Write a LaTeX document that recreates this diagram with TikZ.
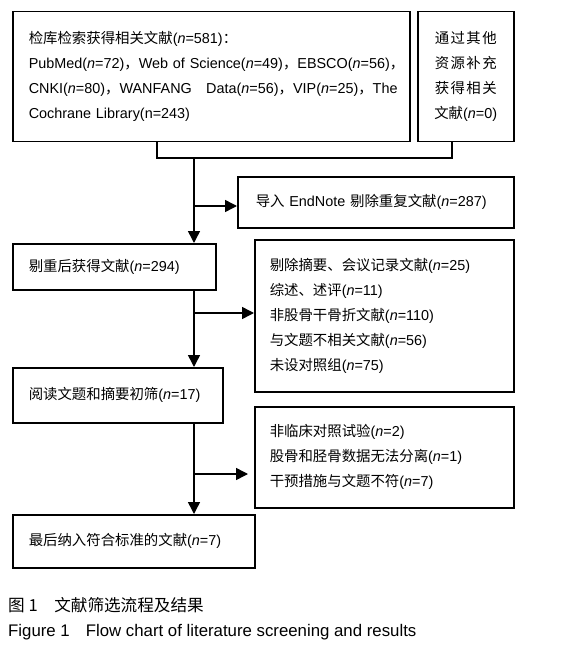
\documentclass[tikz,border=0pt]{standalone}
\usepackage{fontspec}
\setmainfont{Liberation Sans}
\newfontfamily\cjkf{Noto Sans CJK SC}
\newcommand\zh[1]{{\cjkf #1}}
\newcommand\nn{\textit{n}}
\usetikzlibrary{arrows.meta}
\tikzset{
  box/.style={draw, line width=1.5pt, rectangle, anchor=north west, inner xsep=16pt, inner ysep=0pt, align=left, font=\fontsize{14.4}{25}\selectfont},
  arr/.style={line width=1.5pt, -{Triangle[length=12pt,width=12pt]}},
  ln/.style={line width=1.5pt}
}
\begin{document}
\begin{tikzpicture}[x=1pt,y=-1pt]
\useasboundingbox (0,0) rectangle (576,647);
\node[box, text width=365pt, minimum height=130pt] (b1) at (12,11)
 {\mbox{\zh{检库检索获得相关文献}(\nn=581)\zh{：}}\\
  \mbox{PubMed(\nn=72)\zh{，}Web of Science(\nn=49)\zh{，}EBSCO(\nn=56)\zh{，}}\\
  \mbox{CNKI(\nn=80)\zh{，}WANFANG\quad Data(\nn=56)\zh{，}VIP(\nn=25)\zh{，}The}\\
  \mbox{Cochrane Library(n=243)}};
\node[box, inner xsep=0pt, text width=62pt, minimum width=96pt, minimum height=130pt, align=center] (b2) at (417,11)
 {\makebox[62pt]{\zh{通\hfill 过\hfill 其\hfill 他}}\\
  \makebox[62pt]{\zh{资\hfill 源\hfill 补\hfill 充}}\\
  \makebox[62pt]{\zh{获\hfill 得\hfill 相\hfill 关}}\\
  \makebox[62pt]{\zh{文献}(\nn=0)}};
\node[box, inner xsep=18pt, text width=240pt, minimum height=51pt] (e1) at (237,176)
 {\mbox{\zh{导入} EndNote \zh{剔除重复文献}(\nn=287)}};
\node[box, text width=171pt, minimum height=46pt] (b3) at (12,243)
 {\mbox{\zh{剔重后获得文献}(\nn=294)}};
\node[box, inner xsep=15pt, text width=229pt, minimum height=152pt] (e2) at (254,239)
 {\zh{剔除摘要、会议记录文献}(\nn=25)\\
  \zh{综述、述评}(\nn=11)\\
  \zh{非股骨干骨折文献}(\nn=110)\\
  \zh{与文题不相关文献}(\nn=56)\\
  \zh{未设对照组}(\nn=75)};
\node[box, text width=178pt, minimum height=55pt] (b4) at (12,367)
 {\mbox{\zh{阅读文题和摘要初筛}(\nn=17)}};
\node[box, inner xsep=15pt, text width=229pt, minimum height=101pt] (e3) at (254,406)
 {\zh{非临床对照试验}(\nn=2)\\
  \zh{股骨和胫骨数据无法分离}(\nn=1)\\
  \zh{干预措施与文题不符}(\nn=7)};
\node[box, text width=210pt, minimum height=53pt] (b5) at (12,514)
 {\mbox{\zh{最后纳入符合标准的文献}(\nn=7)}};
\coordinate (j1) at (157,158);
\coordinate (j2) at (452,158);
\coordinate (j3) at (194,158);
\coordinate (t1) at (194,206);
\coordinate (t2) at (194,313);
\coordinate (t3) at (194,474);
\coordinate (h3) at (248,474);
\draw[ln] (b1.south -| j1) -- (j1) -- (j2) -- (b2.south -| j2);
\draw[arr] (j3) -- (b3.north -| j3);
\draw[arr] (t1) -- (e1.west |- t1);
\draw[arr] (b3.south -| j3) -- (b4.north -| j3);
\draw[arr] (t2) -- (e2.west |- t2);
\draw[arr] (b4.south -| j3) -- (b5.north -| j3);
\draw[arr] (t3) -- (h3);
\node[anchor=west, inner sep=0pt, font=\fontsize{16.6}{18}\selectfont] (c1) at (8,605) {\zh{图 1　文献筛选流程及结果}};
\node[anchor=west, inner sep=0pt, font=\fontsize{16.8}{18}\selectfont] (c2) at (8,632) {Figure 1\hspace{16pt}Flow chart of literature screening and results};
\end{tikzpicture}
\end{document}
